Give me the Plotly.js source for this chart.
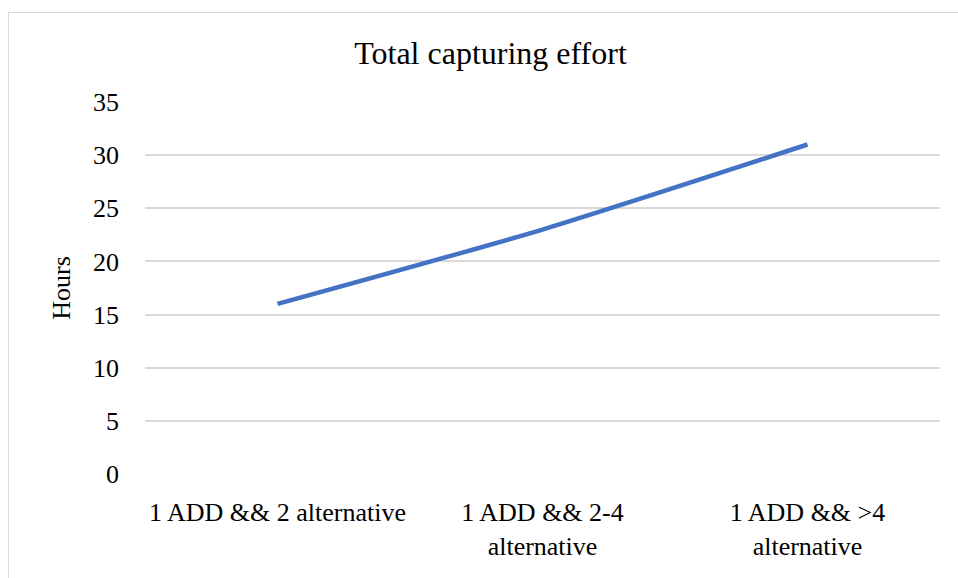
<!DOCTYPE html>
<html>
<head>
<meta charset="utf-8">
<script src="https://cdn.plot.ly/plotly-3.0.1.min.js"></script>
<style>
  html, body { margin: 0; padding: 0; background: #fff; }
  #wrap { position: relative; width: 958px; height: 578px; overflow: hidden; }
  #frame { position: absolute; left: 8px; top: 12px; width: 960px; height: 580px; border: 1.5px solid #d9d9d9; box-sizing: border-box; pointer-events: none; }
  #chart { position: absolute; left: 0; top: 0; width: 958px; height: 578px; }
</style>
</head>
<body>
<div id="wrap">
  <div id="chart"></div>
  <div id="frame"></div>
</div>
<script>
const categories = ["1 ADD && 2 alternative", "1 ADD && 2-4<br>alternative", "1 ADD && >4<br>alternative"];
const hours = [16, 23, 31];
const yTicks = [0, 5, 10, 15, 20, 25, 30, 35];

const font = "'Liberation Serif', 'Times New Roman', serif";

Plotly.newPlot('chart', [{
  x: categories,
  y: hours,
  type: 'scatter',
  mode: 'lines',
  line: { color: '#4472C4', width: 4.5, shape: 'spline', smoothing: 0.6 },
  hoverinfo: 'x+y'
}], {
  width: 958,
  height: 578,
  margin: { l: 145, r: 18, t: 102, b: 104 },
  paper_bgcolor: '#ffffff',
  plot_bgcolor: '#ffffff',
  showlegend: false,
  font: { family: font, color: '#000000', size: 26 },
  title: { text: 'Total capturing effort', font: { family: font, size: 32, color: '#000' }, x: 0.512, xanchor: 'center', y: 0.908, yanchor: 'middle' },
  xaxis: {
    type: 'category',
    range: [-0.5, 2.5],
    showgrid: false,
    zeroline: false,
    showline: false,
    ticks: '',
    tickfont: { family: font, size: 26, color: '#000' },
    ticklabelstandoff: 20
  },
  yaxis: {
    range: [0, 35],
    tickvals: yTicks,
    ticktext: yTicks.map(String),
    showgrid: true,
    gridcolor: '#d9d9d9',
    gridwidth: 1.5,
    zeroline: false,
    showline: false,
    ticks: '',
    ticklabelstandoff: 25,
    tickfont: { family: font, size: 26, color: '#000' },
    title: { text: 'Hours', font: { family: font, size: 26, color: '#000' }, standoff: 14 }
  }
}, { displayModeBar: false, staticPlot: false });
</script>
</body>
</html>
